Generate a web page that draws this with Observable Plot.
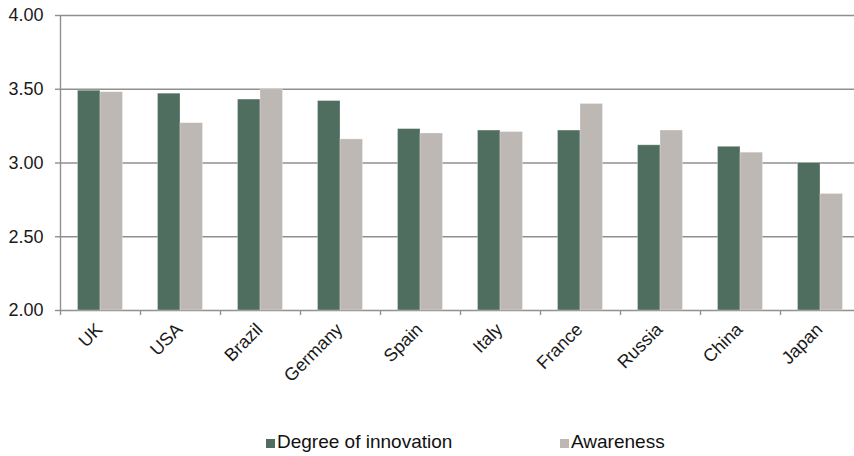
<!DOCTYPE html>
<html>
<head>
<meta charset="utf-8">
<script src="https://cdn.jsdelivr.net/npm/d3@7"></script>
<script src="https://cdn.jsdelivr.net/npm/@observablehq/plot@0.6"></script>
<style>
  html, body { margin: 0; padding: 0; background: #fff; overflow: hidden; }
  body { font-family: "Liberation Sans", Arial, sans-serif; width: 854px; height: 456px; }
  #legend { position: relative; height: 36px; font-size: 19px; color: #111; }
  #legend .item { position: absolute; top: 0; height: 36px; }
  #legend .sw { position: absolute; top: 19px; left: 0; width: 9px; height: 9px; }
  #legend .lab { position: absolute; top: 12px; left: 11px; line-height: 20px; white-space: nowrap; }
</style>
</head>
<body>
<div id="chart"></div>
<div id="legend"></div>
<script>
// Survey scores by country (scale 2.00–4.00)
const countries = ["UK", "USA", "Brazil", "Germany", "Spain", "Italy", "France", "Russia", "China", "Japan"];
const innovation = [3.49, 3.47, 3.43, 3.42, 3.23, 3.22, 3.22, 3.12, 3.11, 3.00];
const awareness = [3.48, 3.27, 3.50, 3.16, 3.20, 3.21, 3.40, 3.22, 3.07, 2.79];
const seriesNames = ["Degree of innovation", "Awareness"];
const seriesColors = ["#506e5f", "#bdb8b3"];
const yTicks = [2.00, 2.50, 3.00, 3.50, 4.00];

const rows = countries.flatMap((c, i) => [
  {country: c, series: seriesNames[0], value: innovation[i]},
  {country: c, series: seriesNames[1], value: awareness[i]}
]);
const baseline = yTicks[0];
const axisGrey = "#8f8f8f";

const chart = Plot.plot({
  width: 854,
  height: 420,
  marginTop: 15,
  marginLeft: 60,
  marginRight: 0,
  marginBottom: 110,
  style: {fontFamily: "Liberation Sans, Arial, sans-serif", fontSize: "18px", color: "#1a1a1a", background: "#fff"},
  x: {domain: countries, range: [60, 860], padding: 0, label: null},
  y: {domain: [yTicks[0], yTicks[yTicks.length - 1]], label: null},
  color: {domain: seriesNames, range: seriesColors},
  marks: [
    // horizontal gridlines (the lowest one doubles as the category axis line)
    Plot.ruleY(yTicks, {stroke: axisGrey, strokeWidth: 1.4}),
    // paired bars inside each country band
    Plot.barY(rows.filter(d => d.series === seriesNames[0]), {
      x: "country", y1: () => baseline, y2: "value", fill: "series",
      insetLeft: 17.5, insetRight: 40, stroke: "#ffffff", strokeOpacity: 0.35, strokeWidth: 0.8
    }),
    Plot.barY(rows.filter(d => d.series === seriesNames[1]), {
      x: "country", y1: () => baseline, y2: "value", fill: "series",
      insetLeft: 40, insetRight: 17.5, stroke: "#ffffff", strokeOpacity: 0.35, strokeWidth: 0.8
    }),
    // value axis line
    Plot.ruleX([countries[0]], {x: d => d, dx: -40, stroke: axisGrey, strokeWidth: 1.4}),
    Plot.axisY(yTicks, {
      tickFormat: d3.format(".2f"), tickSize: 5, tickPadding: 12,
      stroke: axisGrey, strokeWidth: 1.4, fill: "#1a1a1a", fontSize: 18, label: null
    }),
    // tick marks between categories
    Plot.axisX({tickSize: 5, tickFormat: () => "", dx: -40, stroke: axisGrey, strokeWidth: 1.4, label: null}),
    // rotated category labels
    Plot.axisX({tickSize: 0, tickPadding: 16, tickRotate: -45, dx: -1, fill: "#1a1a1a", fontSize: 18, label: null})
  ]
});
document.getElementById("chart").appendChild(chart);

// legend below the chart
const legend = document.getElementById("legend");
const legendLeft = [266, 560];
seriesNames.forEach((name, i) => {
  const item = document.createElement("div");
  item.className = "item";
  item.style.left = legendLeft[i] + "px";
  const sw = document.createElement("div");
  sw.className = "sw";
  sw.style.background = seriesColors[i];
  const lab = document.createElement("div");
  lab.className = "lab";
  lab.textContent = name;
  item.appendChild(sw);
  item.appendChild(lab);
  legend.appendChild(item);
});
</script>
</body>
</html>
